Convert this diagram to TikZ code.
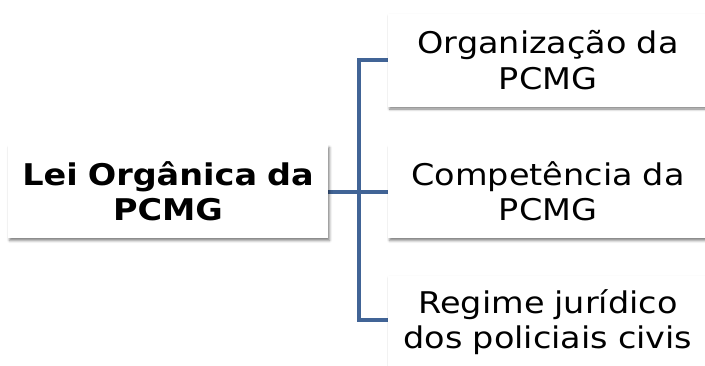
\documentclass[tikz,border=0pt]{standalone}
\usepackage{fontspec}
\setmainfont[FakeStretch=1.12]{DejaVu Sans}
\usetikzlibrary{shadows.blur}
\definecolor{conn}{RGB}{65,100,150}
\tikzset{
  box/.style={fill=white, minimum width=320bp, minimum height=93bp, text width=318bp, align=center,
    inner sep=0pt, font=\fontsize{30}{35.5}\selectfont,
    blur shadow={shadow xshift=1.5bp, shadow yshift=-2.5bp, shadow blur radius=2.5bp, shadow opacity=50}},
  link/.style={draw=conn, line width=4bp}
}
\begin{document}
\begin{tikzpicture}[x=1bp,y=-1bp]
\useasboundingbox (0,0) rectangle (705,365);
\coordinate (j) at (359,191.5);
\coordinate (jt) at (359,60);
\coordinate (jb) at (359,320);
\path[link] (168,191.5) -- (j);
\path[link, line join=miter] (388,60) -- (jt) -- (jb) -- (388,320);
\path[link] (j) -- (388,191.5);
\node[box, font=\fontsize{30}{35.5}\selectfont\bfseries] (root) at (168,191.5) {Lei Orgânica da\\PCMG};
\node[box] (a) at (548,60) {Organização da\\PCMG};
\node[box] (b) at (548,191.5) {Competência da\\PCMG};
\node[box] (c) at (548,322) {Regime jurídico\\dos policiais civis};
\end{tikzpicture}
\end{document}
